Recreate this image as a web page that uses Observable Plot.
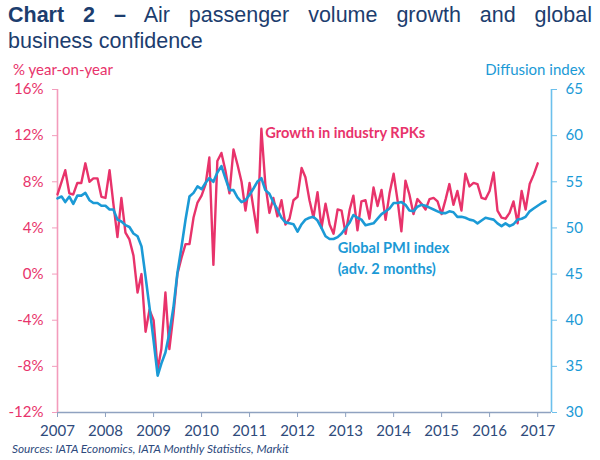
<!DOCTYPE html>
<html><head><meta charset="utf-8">
<script src="https://cdn.jsdelivr.net/npm/d3@7"></script>
<script src="https://cdn.jsdelivr.net/npm/@observablehq/plot@0.6"></script>
<style>
body{margin:0;background:#fff;width:600px;height:460px;position:relative;overflow:hidden;font-family:Lato,sans-serif}
#title{position:absolute;left:8px;top:2px;width:584px;font-family:"Liberation Sans",Arial,sans-serif;font-size:21.5px;line-height:26px;color:#1C3D6E}
#l1{text-align:justify;text-align-last:justify}
#chart{position:absolute;left:0;top:60px}
.ylab{position:absolute;top:60px;font-size:15px;font-family:Lato,sans-serif}
#caption{position:absolute;left:12px;top:441px;font-style:italic;font-size:11.8px;color:#2E4A7D;font-family:Lato,sans-serif}
</style></head>
<body>
<div id="title"><div id="l1"><b>Chart 2 –</b> Air passenger volume growth and global</div><div>business confidence</div></div>
<div class="ylab" style="left:13px;color:#E8336B">% year-on-year</div>
<div class="ylab" style="right:15px;color:#1B9AD6">Diffusion index</div>
<div id="chart"></div>
<div id="caption">Sources: IATA Economics, IATA Monthly Statistics, Markit</div>
<script>
// Monthly series starting January 2007
const startYear = 2007;
const rpkGrowth = [
  6.9, 8.0, 9.0, 7.0, 6.9, 7.9, 7.9, 9.6, 8.0, 8.3, 8.3, 6.7,
  6.6, 9.0, 6.1, 3.2, 6.6, 3.6, 3.0, 1.6, -1.6, 0.0, -5.0, -3.1,
  -4.0, -8.3, -6.5, -1.6, -6.5, -3.5, 0.0, 1.4, 2.6, 2.6, 4.9, 6.2,
  6.8, 7.8, 10.1, 0.8, 9.8, 10.5, 9.0, 7.0, 10.8, 9.5, 8.0, 5.5,
  7.9, 5.6, 3.6, 12.6, 7.8, 5.3, 6.6, 5.0, 6.4, 4.3, 4.8, 6.4,
  6.7, 9.2, 8.4, 6.4, 4.9, 7.1, 4.0, 6.1, 4.3, 3.5, 5.6, 5.5,
  3.5, 5.6, 6.8, 3.8, 6.3, 6.4, 4.8, 7.5, 5.9, 7.3, 4.7, 7.0,
  8.7, 6.3, 3.7, 8.1, 6.9, 5.2, 6.5, 6.1, 5.6, 6.5, 6.6, 6.3,
  5.2, 6.5, 7.8, 6.0, 7.2, 5.5, 8.7, 7.6, 7.9, 7.8, 6.6, 6.5,
  7.2, 8.8, 5.5, 4.9, 4.8, 5.3, 6.3, 4.4, 7.2, 5.6, 7.8, 8.6,
  9.6
];
const pmiIndex = [
  53.2, 53.4, 52.8, 53.4, 52.6, 53.5, 53.5, 53.8, 53.0, 52.7, 52.7, 52.4,
  52.4, 52.0, 52.0, 50.9, 50.7, 50.3, 50.1, 49.4, 49.1, 48.0, 44.7, 41.4,
  37.8, 34.0, 35.3, 36.5, 38.6, 41.4, 45.1, 47.9, 50.9, 53.4, 53.8, 54.5,
  54.2, 54.9, 55.4, 55.0, 56.0, 56.7, 55.4, 54.1, 54.1, 53.3, 52.8, 53.0,
  53.6, 54.3, 55.0, 55.4, 54.1, 53.7, 52.8, 52.0, 51.1, 50.6, 50.5, 50.4,
  49.6, 50.4, 50.9, 51.1, 51.2, 50.8, 50.0, 49.1, 48.8, 48.8, 49.0, 49.4,
  50.0, 50.6, 51.4, 51.1, 50.9, 50.3, 50.4, 50.5, 51.0, 51.5, 51.8, 52.1,
  52.7, 52.7, 52.8, 52.5, 51.9, 51.8, 52.3, 52.5, 52.4, 52.2, 52.0, 51.8,
  51.6, 51.6, 51.8, 51.7, 51.2, 51.2, 51.1, 50.9, 50.8, 50.5, 50.8, 51.1,
  51.0, 50.9, 50.5, 50.2, 50.5, 50.2, 50.4, 50.9, 51.0, 51.2, 51.8, 52.1,
  52.4, 52.7, 52.9
];
const leftTicks = [-12, -8, -4, 0, 4, 8, 12, 16];
const rightTicks = [30, 35, 40, 45, 50, 55, 60, 65];
const yearTicks = [2007, 2008, 2009, 2010, 2011, 2012, 2013, 2014, 2015, 2016, 2017];
const seriesLabels = ["Growth in industry RPKs", "Global PMI index", "(adv. 2 months)"];

const PINK = "#E8336B", BLUE = "#1B9AD6";
const month = i => new Date(Date.UTC(startYear, i, 1));
// map the right-hand (PMI) scale onto the left-hand scale
const L0 = leftTicks[0], L1 = leftTicks[leftTicks.length - 1];
const R0 = rightTicks[0], R1 = rightTicks[rightTicks.length - 1];
const toLeft = v => L0 + (v - R0) * (L1 - L0) / (R1 - R0);
const toRight = v => R0 + (v - L0) * (R1 - R0) / (L1 - L0);

const rpk = rpkGrowth.map((v, i) => ({date: month(i), value: v}));
const pmi = pmiIndex.map((v, i) => ({date: month(i), value: toLeft(v)}));
const xMin = month(0), xMax = new Date(Date.UTC(2017, 3, 16));

const annotations = [
  {text: seriesLabels[0], date: month(52.5), value: 12.2, color: PINK},
  {text: seriesLabels[1], date: month(70), value: 2.2, color: BLUE},
  {text: seriesLabels[2], date: month(70), value: 0.45, color: BLUE}
];

const chart = Plot.plot({
  width: 600, height: 380,
  marginLeft: 57, marginRight: 49, marginTop: 29, marginBottom: 28,
  style: {fontFamily: "Lato, sans-serif", fontSize: "15px", background: "transparent"},
  x: {type: "utc", domain: [xMin, xMax]},
  y: {domain: [L0, L1]},
  marks: [
    Plot.ruleY([L0], {stroke: "#8FA2C0", strokeWidth: 1.3}),
    Plot.ruleX([xMin], {stroke: "#F39CBC", strokeWidth: 1.6}),
    Plot.ruleX([xMax], {stroke: "#6CC0EC", strokeWidth: 1.6}),
    Plot.axisY({anchor: "left", ticks: leftTicks, tickFormat: d => d + "%", tickSize: 5, tickPadding: 9,
      stroke: "#F39CBC", fill: PINK, label: null}),
    Plot.axisY({anchor: "right", ticks: rightTicks.map(toLeft), tickFormat: d => String(Math.round(toRight(d))),
      tickSize: 5, tickPadding: 9, stroke: "#6CC0EC", fill: BLUE, label: null}),
    Plot.axisX({ticks: yearTicks.map(y => new Date(Date.UTC(y, 0, 1))), tickFormat: d => String(d.getUTCFullYear()),
      tickSize: 5, tickPadding: 8, stroke: "#8FA2C0", fill: "#2F4B7C", label: null}),
    Plot.line(rpk, {x: "date", y: "value", stroke: PINK, strokeWidth: 2.4, strokeLinejoin: "round"}),
    Plot.line(pmi, {x: "date", y: "value", stroke: BLUE, strokeWidth: 2.6, strokeLinejoin: "round"}),
    Plot.text(annotations, {x: "date", y: "value", text: "text", fill: "color", textAnchor: "start",
      fontWeight: "bold", fontSize: 14.6})
  ]
});
document.getElementById("chart").appendChild(chart);
</script>
</body></html>
